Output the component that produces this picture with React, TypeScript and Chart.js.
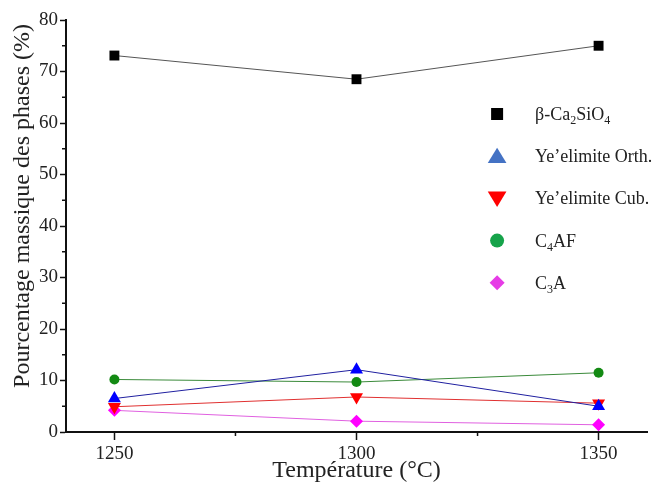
import React, { useEffect, useRef } from 'react';
import { Chart, registerables } from 'chart.js';

Chart.register(...registerables);

const temperatures = [1250, 1300, 1350];
const betaC2S = [73.1, 68.5, 75.0];
const yeOrth = [6.5, 12.1, 5.0];
const yeCub = [4.9, 6.8, 5.6];
const c4af = [10.2, 9.7, 11.5];
const c3a = [4.2, 2.1, 1.4];

const xTickValues = [1250, 1275, 1300, 1325, 1350];
const xLabelValues = [1250, 1300, 1350];
const yTickValues = [0, 5, 10, 15, 20, 25, 30, 35, 40, 45, 50, 55, 60, 65, 70, 75, 80];
const yLabelValues = [0, 10, 20, 30, 40, 50, 60, 70, 80];

const xTitle = 'Température (°C)';
const yTitle = 'Pourcentage massique des phases (%)';

// legend text segments: [text, isSubscript]
const legendItems: { parts: [string, boolean][]; shape: string; color: string }[] = [
  { parts: [['β-Ca', false], ['2', true], ['SiO', false], ['4', true]], shape: 'square', color: '#000000' },
  { parts: [['Ye’elimite Orth.', false]], shape: 'triangle', color: '#4472c4' },
  { parts: [['Ye’elimite Cub.', false]], shape: 'triangleDown', color: '#ff0000' },
  { parts: [['C', false], ['4', true], ['AF', false]], shape: 'circle', color: '#16a34a' },
  { parts: [['C', false], ['3', true], ['A', false]], shape: 'diamond', color: '#e63ce6' },
];

const FONT = '"Liberation Serif", "Times New Roman", serif';

function toPoints(vals: number[]) {
  return vals.map((v, i) => ({ x: temperatures[i], y: v }));
}

function drawShape(ctx: CanvasRenderingContext2D, shape: string, x: number, y: number, r: number) {
  ctx.beginPath();
  if (shape === 'square') {
    ctx.rect(x - r, y - r, 2 * r, 2 * r);
  } else if (shape === 'triangle') {
    ctx.moveTo(x, y - r);
    ctx.lineTo(x + r * 1.1, y + r * 0.8);
    ctx.lineTo(x - r * 1.1, y + r * 0.8);
    ctx.closePath();
  } else if (shape === 'triangleDown') {
    ctx.moveTo(x, y + r);
    ctx.lineTo(x + r * 1.1, y - r * 0.8);
    ctx.lineTo(x - r * 1.1, y - r * 0.8);
    ctx.closePath();
  } else if (shape === 'circle') {
    ctx.arc(x, y, r, 0, Math.PI * 2);
  } else if (shape === 'diamond') {
    ctx.moveTo(x, y - r);
    ctx.lineTo(x + r, y);
    ctx.lineTo(x, y + r);
    ctx.lineTo(x - r, y);
    ctx.closePath();
  }
  ctx.fill();
}

const customLegend = {
  id: 'customLegend',
  afterDraw(chart: any) {
    const ctx = chart.ctx as CanvasRenderingContext2D;
    const area = chart.chartArea;
    const markerX = area.left + (area.right - area.left) * 0.742;
    const textX = markerX + 38;
    const startY = area.top + 94;
    const gap = 42.2;
    const sizes: Record<string, number> = { square: 6, triangle: 8.5, triangleDown: 8.5, circle: 7, diamond: 7.5 };
    ctx.save();
    legendItems.forEach((item, i) => {
      const y = startY + i * gap;
      ctx.fillStyle = item.color;
      drawShape(ctx, item.shape, markerX, y, sizes[item.shape]);
      let x = textX;
      ctx.fillStyle = '#222222';
      ctx.textBaseline = 'alphabetic';
      ctx.textAlign = 'left';
      item.parts.forEach(([t, sub]) => {
        ctx.font = sub ? `12px ${FONT}` : `18px ${FONT}`;
        ctx.fillText(t, x, sub ? y + 10 : y + 6);
        x += ctx.measureText(t).width;
      });
    });
    ctx.restore();
  },
};

const yTitlePlugin = {
  id: 'yTitlePlugin',
  afterDraw(chart: any) {
    const ctx = chart.ctx as CanvasRenderingContext2D;
    ctx.save();
    ctx.translate(23, 206);
    ctx.rotate(-Math.PI / 2);
    ctx.font = `24px ${FONT}`;
    ctx.fillStyle = '#222222';
    ctx.textAlign = 'center';
    ctx.textBaseline = 'middle';
    ctx.fillText(yTitle, 0, 0);
    ctx.restore();
  },
};

const minorTicks = {
  id: 'minorTicks',
  afterDraw(chart: any) {
    const ctx = chart.ctx as CanvasRenderingContext2D;
    const xs = chart.scales.x;
    const ys = chart.scales.y;
    ctx.save();
    ctx.strokeStyle = '#111111';
    ctx.lineWidth = 1.5;
    xTickValues.forEach((v) => {
      if (xLabelValues.includes(v)) return;
      const px = xs.getPixelForValue(v);
      ctx.beginPath();
      ctx.moveTo(px, ys.bottom);
      ctx.lineTo(px, ys.bottom + 4);
      ctx.stroke();
    });
    yTickValues.forEach((v) => {
      if (yLabelValues.includes(v)) return;
      const py = ys.getPixelForValue(v);
      ctx.beginPath();
      ctx.moveTo(xs.left, py);
      ctx.lineTo(xs.left - 4, py);
      ctx.stroke();
    });
    ctx.restore();
  },
};

export default function App() {
  const ref = useRef<HTMLCanvasElement | null>(null);

  useEffect(() => {
    if (!ref.current) return;
    const chart = new Chart(ref.current, {
      type: 'line',
      data: {
        datasets: [
          {
            label: 'β-Ca2SiO4',
            data: toPoints(betaC2S),
            borderColor: '#555555',
            borderWidth: 1,
            backgroundColor: '#000000',
            pointBackgroundColor: '#000000',
            pointBorderColor: '#000000',
            pointStyle: 'rect',
            pointRadius: 7,
            pointBorderWidth: 0,
          },
          {
            label: 'Ye’elimite Orth.',
            data: toPoints(yeOrth),
            borderColor: '#2020a0',
            borderWidth: 1,
            pointBackgroundColor: '#0000ff',
            pointBorderColor: '#0000ff',
            pointStyle: 'triangle',
            pointRadius: 7.5,
            pointBorderWidth: 0,
          },
          {
            label: 'Ye’elimite Cub.',
            data: toPoints(yeCub),
            borderColor: '#e03030',
            borderWidth: 1,
            pointBackgroundColor: '#ff0000',
            pointBorderColor: '#ff0000',
            pointStyle: 'triangle',
            pointRotation: 180,
            pointRadius: 7.5,
            pointBorderWidth: 0,
          },
          {
            label: 'C4AF',
            data: toPoints(c4af),
            borderColor: '#3a8a3a',
            borderWidth: 1,
            pointBackgroundColor: '#138a13',
            pointBorderColor: '#138a13',
            pointStyle: 'circle',
            pointRadius: 5,
            pointBorderWidth: 0,
          },
          {
            label: 'C3A',
            data: toPoints(c3a),
            borderColor: '#e060e0',
            borderWidth: 1,
            pointBackgroundColor: '#ff00ff',
            pointBorderColor: '#ff00ff',
            pointStyle: 'rectRot',
            pointRadius: 6.5,
            pointBorderWidth: 0,
          },
        ],
      },
      options: {
        animation: false,
        responsive: false,
        maintainAspectRatio: false,
        layout: { padding: { top: 20, right: 17, left: 0, bottom: 0 } },
        plugins: {
          legend: { display: false },
          tooltip: { enabled: false },
        },
        scales: {
          x: {
            type: 'linear',
            min: 1240,
            max: 1360,
            afterBuildTicks: (scale: any) => {
              scale.ticks = xTickValues.map((v) => ({ value: v }));
            },
            afterFit: (scale: any) => {
              scale.height = 59;
            },
            border: { display: true, color: '#111111', width: 2 },
            grid: {
              drawOnChartArea: false,
              drawTicks: true,
              tickLength: 8,
              tickWidth: 1.5,
              tickColor: (c: any) => (xLabelValues.includes(c.tick?.value) ? '#111111' : 'rgba(0,0,0,0)'),
            },
            ticks: {
              autoSkip: false,
              maxRotation: 0,
              padding: 3,
              color: '#222222',
              font: { family: FONT, size: 19 },
              callback: (v: any) => (xLabelValues.includes(Number(v)) ? String(v) : ''),
            },
            title: {
              display: true,
              text: xTitle,
              color: '#222222',
              font: { family: FONT, size: 24 },
              padding: { top: 0, bottom: 6 },
            },
          },
          y: {
            type: 'linear',
            min: 0,
            max: 80,
            afterBuildTicks: (scale: any) => {
              scale.ticks = yTickValues.map((v) => ({ value: v }));
            },
            afterFit: (scale: any) => {
              scale.width = 66;
            },
            border: { display: true, color: '#111111', width: 2 },
            grid: {
              drawOnChartArea: false,
              drawTicks: true,
              tickLength: 6,
              tickWidth: 1.5,
              tickColor: (c: any) => (yLabelValues.includes(c.tick?.value) ? '#111111' : 'rgba(0,0,0,0)'),
            },
            ticks: {
              autoSkip: false,
              padding: 2,
              color: '#222222',
              font: { family: FONT, size: 19 },
              callback: (v: any) => (yLabelValues.includes(Number(v)) ? String(v) : ''),
            },
            title: { display: false },
          },
        },
      },
      plugins: [customLegend, minorTicks, yTitlePlugin],
    } as any);
    return () => chart.destroy();
  }, []);

  return (
    <div style={{ position: 'absolute', left: 0, top: 0, width: 664, height: 491, background: '#ffffff' }}>
      <canvas ref={ref} width={664} height={491} style={{ display: 'block', width: 664, height: 491 }} />
    </div>
  );
}
